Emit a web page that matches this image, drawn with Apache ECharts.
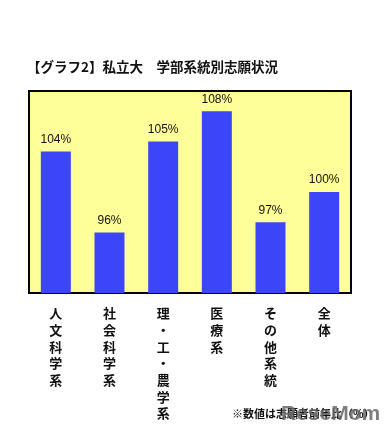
<!DOCTYPE html>
<html>
<head>
<meta charset="utf-8">
<script src="https://cdn.jsdelivr.net/npm/echarts@6/dist/echarts.min.js"></script>
<style>
html,body{margin:0;padding:0;background:#fff;}
#main{width:390px;height:443px;}
</style>
</head>
<body>
<div id="main"></div>
<script>
var categories = ['人文科学系', '社会科学系', '理・工・農学系', '医療系', 'その他系統', '全体'];
var values = [104, 96, 105, 108, 97, 100];
var axisMin = 90;
var axisMax = 110;
var titleText = '【グラフ2】私立大　学部系統別志願状況';
var noteText = '※数値は志願者前年比（%）';

var chart = echarts.init(document.getElementById('main'), null, {renderer: 'canvas'});
chart.setOption({
  backgroundColor: '#ffffff',
  animation: false,
  title: {
    text: titleText,
    left: 22,
    top: 55,
    textStyle: {fontFamily: 'Noto Sans CJK JP', fontSize: 13.5, fontWeight: 'bold', color: '#111'}
  },
  grid: {
    left: 29, right: 39, top: 91, bottom: 150,
    show: true,
    backgroundColor: '#FFFF99',
    borderColor: '#000',
    borderWidth: 2
  },
  xAxis: {
    type: 'category',
    data: categories,
    axisLine: {show: false},
    axisTick: {show: false},
    axisLabel: {
      interval: 0,
      margin: 12,
      fontFamily: 'Noto Sans CJK JP',
      fontSize: 13,
      fontWeight: 'bold',
      color: '#111',
      lineHeight: 16.7,
      verticalAlign: 'top',
      formatter: function (v) { return v.split('').join('\n'); }
    }
  },
  yAxis: {
    type: 'value',
    min: axisMin,
    max: axisMax,
    show: false,
    splitLine: {show: false}
  },
  series: [{
    type: 'bar',
    data: values,
    barWidth: 30,
    itemStyle: {color: '#3C46F8'},
    label: {
      show: true,
      position: 'top',
      distance: 6,
      formatter: '{c}%',
      fontFamily: 'Liberation Sans',
      fontSize: 12,
      color: '#111'
    }
  }],
  graphic: [
    {
      type: 'text',
      left: 232,
      top: 408,
      style: {text: noteText, font: 'bold 11px "Noto Sans CJK JP"', fill: '#111'}
    },
    {
      type: 'text',
      left: 281,
      top: 404,
      style: {
        text: 'ReseMom',
        fontSize: 21,
        fontWeight: 'bold',
        fontFamily: 'Liberation Sans',
        fill: 'rgba(105,105,105,0.85)'
      }
    }
  ]
});
</script>
</body>
</html>
